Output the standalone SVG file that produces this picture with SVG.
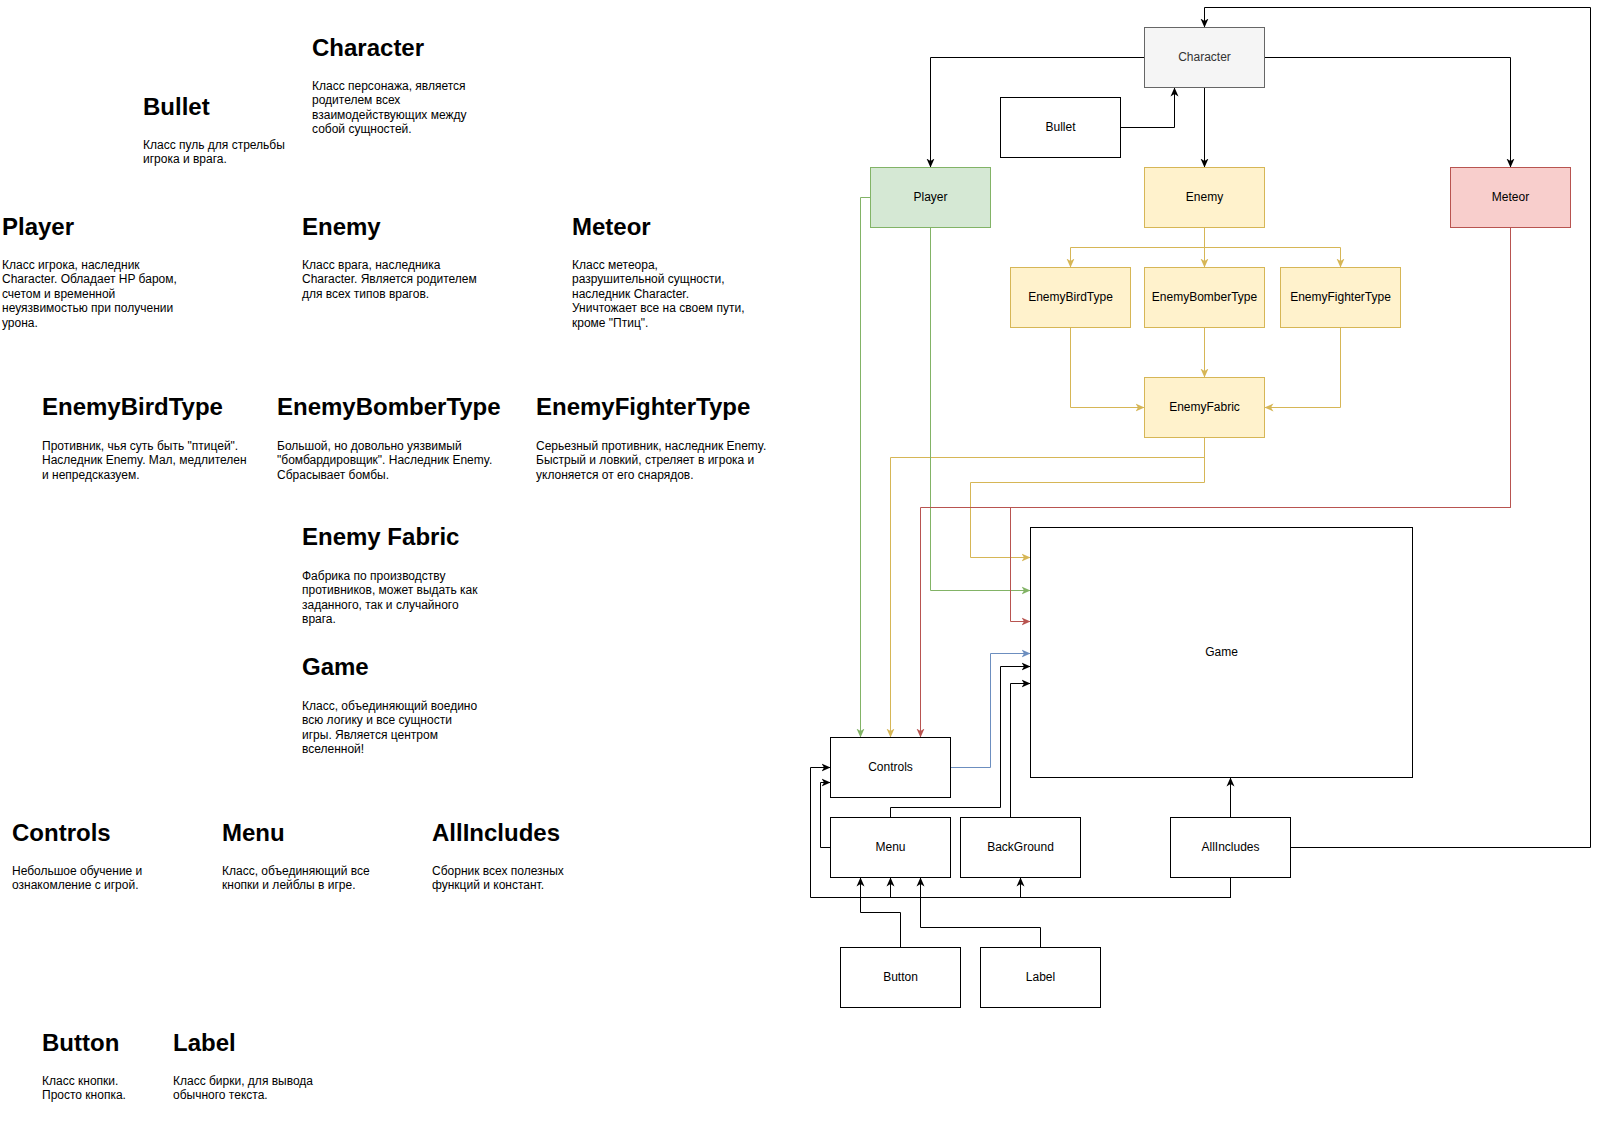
<svg xmlns="http://www.w3.org/2000/svg" width="1599" height="1146" viewBox="0 0 1599 1146">
<style>
.h{font-family:"Liberation Sans",Arial,sans-serif;font-size:24px;font-weight:bold;fill:#000}
.b{font-family:"Liberation Sans",Arial,sans-serif;font-size:12px;fill:#000}
.n{font-family:"Liberation Sans",Arial,sans-serif;font-size:12px;fill:#000;text-anchor:middle}
.w{fill:#fff;stroke:#000;stroke-width:1}
.gr{fill:#f5f5f5;stroke:#666;stroke-width:1}
.g{fill:#d5e8d4;stroke:#82b366;stroke-width:1}
.y{fill:#fff2cc;stroke:#d6b656;stroke-width:1}
.r{fill:#f8cecc;stroke:#b85450;stroke-width:1}
.c{fill:none;stroke-width:1}
.ck{stroke:#000;marker-end:url(#mk)}
.cy{stroke:#d6b656;marker-end:url(#my)}
.cg{stroke:#82b366;marker-end:url(#mg)}
.cr{stroke:#b85450;marker-end:url(#mr)}
.cb{stroke:#6c8ebf;marker-end:url(#mb)}
</style>
<defs>
<marker id="mk" viewBox="0 0 9 9" refX="9" refY="4.5" markerWidth="9" markerHeight="9" markerUnits="userSpaceOnUse" orient="auto"><path d="M0,0.5 L9,4.5 L0,8.5 L2.5,4.5 Z" fill="#000"/></marker>
<marker id="my" viewBox="0 0 9 9" refX="9" refY="4.5" markerWidth="9" markerHeight="9" markerUnits="userSpaceOnUse" orient="auto"><path d="M0,0.5 L9,4.5 L0,8.5 L2.5,4.5 Z" fill="#d6b656"/></marker>
<marker id="mg" viewBox="0 0 9 9" refX="9" refY="4.5" markerWidth="9" markerHeight="9" markerUnits="userSpaceOnUse" orient="auto"><path d="M0,0.5 L9,4.5 L0,8.5 L2.5,4.5 Z" fill="#82b366"/></marker>
<marker id="mr" viewBox="0 0 9 9" refX="9" refY="4.5" markerWidth="9" markerHeight="9" markerUnits="userSpaceOnUse" orient="auto"><path d="M0,0.5 L9,4.5 L0,8.5 L2.5,4.5 Z" fill="#b85450"/></marker>
<marker id="mb" viewBox="0 0 9 9" refX="9" refY="4.5" markerWidth="9" markerHeight="9" markerUnits="userSpaceOnUse" orient="auto"><path d="M0,0.5 L9,4.5 L0,8.5 L2.5,4.5 Z" fill="#6c8ebf"/></marker>
</defs>
<rect x="0" y="0" width="1599" height="1146" fill="#fff"/>

<g id="descriptions">
<g id="desc-character"><text class="h" x="312" y="56">Character</text>
<text class="b" x="312" y="90"><tspan x="312" dy="0">Класс персонажа, является</tspan><tspan x="312" dy="14.4">родителем всех</tspan><tspan x="312" dy="14.4">взаимодействующих между</tspan><tspan x="312" dy="14.4">собой сущностей.</tspan></text></g>
<g id="desc-bullet"><text class="h" x="143" y="115">Bullet</text>
<text class="b" x="143" y="149"><tspan x="143" dy="0">Класс пуль для стрельбы</tspan><tspan x="143" dy="14.4">игрока и врага.</tspan></text></g>
<g id="desc-player"><text class="h" x="2" y="235">Player</text>
<text class="b" x="2" y="269"><tspan x="2" dy="0">Класс игрока, наследник</tspan><tspan x="2" dy="14.4">Character. Обладает HP баром,</tspan><tspan x="2" dy="14.4">счетом и временной</tspan><tspan x="2" dy="14.4">неуязвимостью при получении</tspan><tspan x="2" dy="14.4">урона.</tspan></text></g>
<g id="desc-enemy"><text class="h" x="302" y="235">Enemy</text>
<text class="b" x="302" y="269"><tspan x="302" dy="0">Класс врага, наследника</tspan><tspan x="302" dy="14.4">Character. Является родителем</tspan><tspan x="302" dy="14.4">для всех типов врагов.</tspan></text></g>
<g id="desc-meteor"><text class="h" x="572" y="235">Meteor</text>
<text class="b" x="572" y="269"><tspan x="572" dy="0">Класс метеора,</tspan><tspan x="572" dy="14.4">разрушительной сущности,</tspan><tspan x="572" dy="14.4">наследник Character.</tspan><tspan x="572" dy="14.4">Уничтожает все на своем пути,</tspan><tspan x="572" dy="14.4">кроме "Птиц".</tspan></text></g>
<g id="desc-bird"><text class="h" x="42" y="415">EnemyBirdType</text>
<text class="b" x="42" y="450"><tspan x="42" dy="0">Противник, чья суть быть "птицей".</tspan><tspan x="42" dy="14.4">Наследник Enemy. Мал, медлителен</tspan><tspan x="42" dy="14.4">и непредсказуем.</tspan></text></g>
<g id="desc-bomber"><text class="h" x="277" y="415">EnemyBomberType</text>
<text class="b" x="277" y="450"><tspan x="277" dy="0">Большой, но довольно уязвимый</tspan><tspan x="277" dy="14.4">"бомбардировщик". Наследник Enemy.</tspan><tspan x="277" dy="14.4">Сбрасывает бомбы.</tspan></text></g>
<g id="desc-fighter"><text class="h" x="536" y="415">EnemyFighterType</text>
<text class="b" x="536" y="450"><tspan x="536" dy="0">Серьезный противник, наследник Enemy.</tspan><tspan x="536" dy="14.4">Быстрый и ловкий, стреляет в игрока и</tspan><tspan x="536" dy="14.4">уклоняется от его снарядов.</tspan></text></g>
<g id="desc-fabric"><text class="h" x="302" y="545">Enemy Fabric</text>
<text class="b" x="302" y="580"><tspan x="302" dy="0">Фабрика по производству</tspan><tspan x="302" dy="14.4">противников, может выдать как</tspan><tspan x="302" dy="14.4">заданного, так и случайного</tspan><tspan x="302" dy="14.4">врага.</tspan></text></g>
<g id="desc-game"><text class="h" x="302" y="675">Game</text>
<text class="b" x="302" y="710"><tspan x="302" dy="0">Класс, объединяющий воедино</tspan><tspan x="302" dy="14.4">всю логику и все сущности</tspan><tspan x="302" dy="14.4">игры. Является центром</tspan><tspan x="302" dy="14.4">вселенной!</tspan></text></g>
<g id="desc-controls"><text class="h" x="12" y="841">Controls</text>
<text class="b" x="12" y="875"><tspan x="12" dy="0">Небольшое обучение и</tspan><tspan x="12" dy="14.4">ознакомление с игрой.</tspan></text></g>
<g id="desc-menu"><text class="h" x="222" y="841">Menu</text>
<text class="b" x="222" y="875"><tspan x="222" dy="0">Класс, объединяющий все</tspan><tspan x="222" dy="14.4">кнопки и лейблы в игре.</tspan></text></g>
<g id="desc-allincludes"><text class="h" x="432" y="841">AllIncludes</text>
<text class="b" x="432" y="875"><tspan x="432" dy="0">Сборник всех полезных</tspan><tspan x="432" dy="14.4">функций и констант.</tspan></text></g>
<g id="desc-button"><text class="h" x="42" y="1051">Button</text>
<text class="b" x="42" y="1085"><tspan x="42" dy="0">Класс кнопки.</tspan><tspan x="42" dy="14.4">Просто кнопка.</tspan></text></g>
<g id="desc-label"><text class="h" x="173" y="1051">Label</text>
<text class="b" x="173" y="1085"><tspan x="173" dy="0">Класс бирки, для вывода</tspan><tspan x="173" dy="14.4">обычного текста.</tspan></text></g>
</g>

<g id="connectors" transform="translate(0.5,0.5)">
<path class="c ck" d="M1144,57 H930 V167"/>
<path class="c ck" d="M1204,87 V167"/>
<path class="c ck" d="M1264,57 H1510 V167"/>
<path class="c ck" d="M1120,127 H1174 V87"/>
<path class="c cy" d="M1204,227 V247 H1070 V267"/>
<path class="c cy" d="M1204,227 V267"/>
<path class="c cy" d="M1204,227 V247 H1340 V267"/>
<path class="c cy" d="M1070,327 V407 H1144"/>
<path class="c cy" d="M1204,327 V377"/>
<path class="c cy" d="M1340,327 V407 H1264"/>
<path class="c cy" d="M1204,437 V457 H890 V737"/>
<path class="c cy" d="M1204,437 V482 H970 V557 H1030"/>
<path class="c cg" d="M870,197 H860 V737"/>
<path class="c cg" d="M930,227 V590 H1030"/>
<path class="c cr" d="M1510,227 V507 H920 V737"/>
<path class="c cr" d="M1510,227 V507 H1010 V621 H1030"/>
<path class="c cb" d="M950,767 H990 V653 H1030"/>
<path class="c ck" d="M890,817 V807 H1000 V666 H1030"/>
<path class="c ck" d="M1010,817 V683 H1030"/>
<path class="c ck" d="M830,847 H820 V782 H830"/>
<path class="c ck" d="M1230,817 V777"/>
<path class="c ck" d="M1290,847 H1590 V7 H1204 V27"/>
<path class="c ck" d="M1230,877 V897 H810 V767 H830"/>
<path class="c ck" d="M1230,877 V897 H890 V877"/>
<path class="c ck" d="M1230,877 V897 H1020 V877"/>
<path class="c ck" d="M900,947 V912 H860 V877"/>
<path class="c ck" d="M1040,947 V927 H920 V877"/>
</g>

<g id="nodes" transform="translate(0.5,0.5)">
<g id="node-character"><rect class="gr" x="1144" y="27" width="120" height="60"/><text class="n" x="1204" y="60" style="fill:#333">Character</text></g>
<g id="node-bullet"><rect class="w" x="1000" y="97" width="120" height="60"/><text class="n" x="1060" y="130">Bullet</text></g>
<g id="node-player"><rect class="g" x="870" y="167" width="120" height="60"/><text class="n" x="930" y="200">Player</text></g>
<g id="node-enemy"><rect class="y" x="1144" y="167" width="120" height="60"/><text class="n" x="1204" y="200">Enemy</text></g>
<g id="node-meteor"><rect class="r" x="1450" y="167" width="120" height="60"/><text class="n" x="1510" y="200">Meteor</text></g>
<g id="node-bird"><rect class="y" x="1010" y="267" width="120" height="60"/><text class="n" x="1070" y="300">EnemyBirdType</text></g>
<g id="node-bomber"><rect class="y" x="1144" y="267" width="120" height="60"/><text class="n" x="1204" y="300">EnemyBomberType</text></g>
<g id="node-fighter"><rect class="y" x="1280" y="267" width="120" height="60"/><text class="n" x="1340" y="300">EnemyFighterType</text></g>
<g id="node-fabric"><rect class="y" x="1144" y="377" width="120" height="60"/><text class="n" x="1204" y="410">EnemyFabric</text></g>
<g id="node-game"><rect class="w" x="1030" y="527" width="382" height="250"/><text class="n" x="1221" y="655">Game</text></g>
<g id="node-controls"><rect class="w" x="830" y="737" width="120" height="60"/><text class="n" x="890" y="770">Controls</text></g>
<g id="node-menu"><rect class="w" x="830" y="817" width="120" height="60"/><text class="n" x="890" y="850">Menu</text></g>
<g id="node-background"><rect class="w" x="960" y="817" width="120" height="60"/><text class="n" x="1020" y="850">BackGround</text></g>
<g id="node-allincludes"><rect class="w" x="1170" y="817" width="120" height="60"/><text class="n" x="1230" y="850">AllIncludes</text></g>
<g id="node-button"><rect class="w" x="840" y="947" width="120" height="60"/><text class="n" x="900" y="980">Button</text></g>
<g id="node-label"><rect class="w" x="980" y="947" width="120" height="60"/><text class="n" x="1040" y="980">Label</text></g>
</g>
</svg>
